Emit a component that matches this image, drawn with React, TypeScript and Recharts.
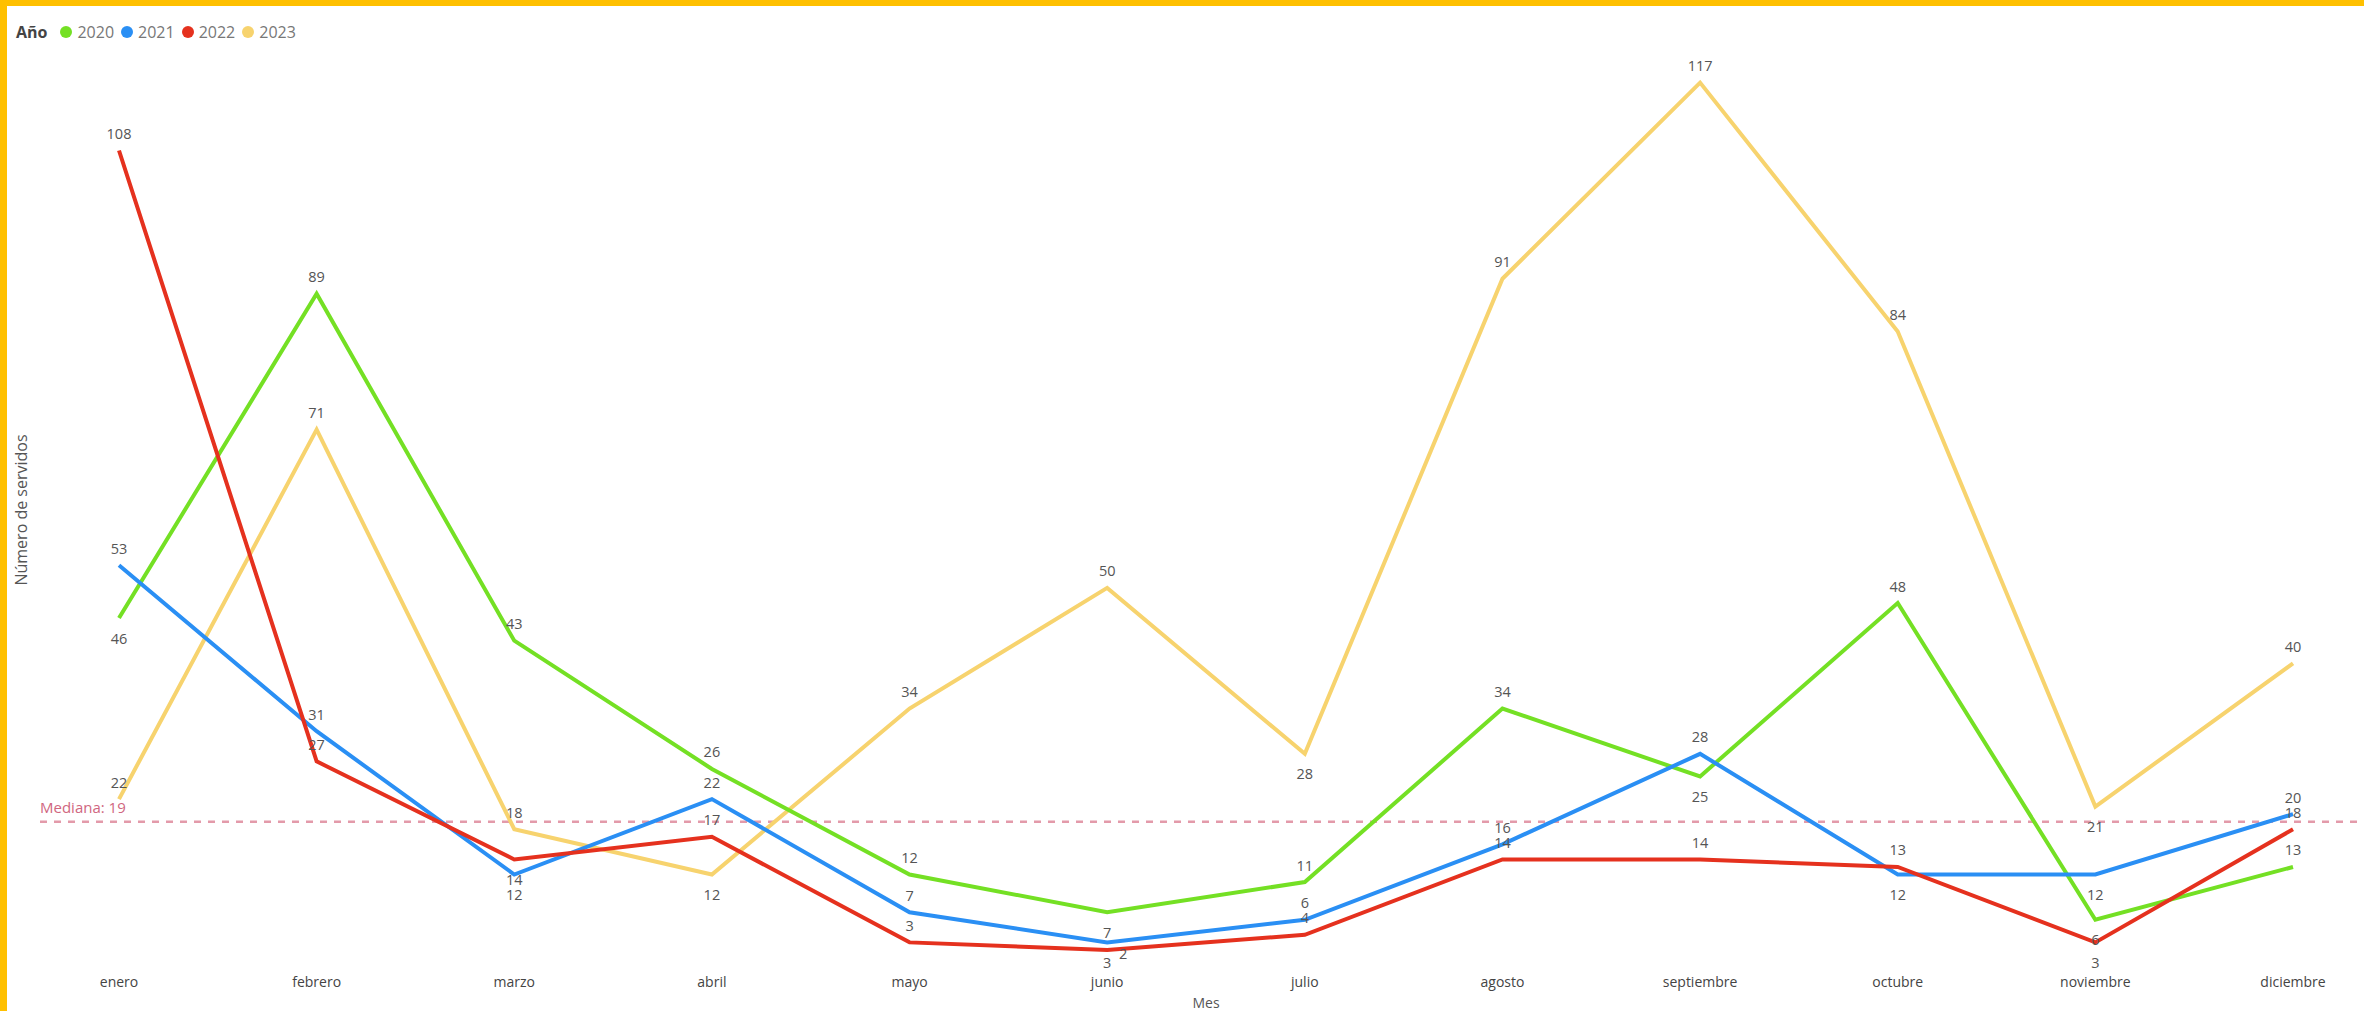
import React from "react";
import { LineChart, Line, XAxis, YAxis, LabelList, ReferenceLine } from "recharts";

const MONTHS = ["enero", "febrero", "marzo", "abril", "mayo", "junio", "julio", "agosto", "septiembre", "octubre", "noviembre", "diciembre"];
const Y2020 = [46, 89, 43, 26, 12, 7, 11, 34, 25, 48, 6, 13];
const Y2021 = [53, 31, 12, 22, 7, 3, 6, 16, 28, 12, 12, 20];
const Y2022 = [108, 27, 14, 17, 3, 2, 4, 14, 14, 13, 3, 18];
const Y2023 = [22, 71, 18, 12, 34, 50, 28, 91, 117, 84, 21, 40];
const MEDIAN = 19;
const YEARS = ["2020", "2021", "2022", "2023"];

const COLORS: Record<string, string> = {
  "2020": "#74E024",
  "2021": "#2A8FF4",
  "2022": "#E5311E",
  "2023": "#F7D36E",
};

// label placement (style config, not data)
const LABEL_BELOW: Record<string, number[]> = {
  "2020": [0, 5, 8, 10],
  "2021": [2, 5, 9, 10],
  "2022": [2, 10],
  "2023": [3, 6, 10],
};
const LABEL_RIGHT: Record<string, number[]> = { "2022": [5] };

const data = MONTHS.map((m, i) => ({
  month: m,
  "2020": Y2020[i],
  "2021": Y2021[i],
  "2022": Y2022[i],
  "2023": Y2023[i],
}));

const FONT = "'Segoe UI', 'Open Sans', sans-serif";

const makeLabel = (key: string) => (props: any) => {
  const { x, y, value, index } = props;
  const below = (LABEL_BELOW[key] || []).includes(index);
  const right = (LABEL_RIGHT[key] || []).includes(index);
  let tx = x;
  let ty = y - 17;
  if (below) ty = y + 20;
  if (right) {
    tx = x + 16;
    ty = y + 4;
  }
  return (
    <text x={tx} y={ty} textAnchor="middle" dominantBaseline="central" fontSize={14.5} fill="#555" fontFamily={FONT}>
      {value}
    </text>
  );
};

const MedianShape = (props: any) => {
  const y = props.y1 ?? props.y;
  return (
    <g>
      <line x1={40} x2={2364} y1={y} y2={y} stroke="#E39AAA" strokeWidth={2.5} strokeDasharray="7 7" />
      <text x={40} y={y - 15} fontSize={15} fill="#D06680" fontFamily={FONT} dominantBaseline="central">
        {`Mediana: ${MEDIAN}`}
      </text>
    </g>
  );
};

const order = ["2023", "2020", "2021", "2022"];

export default function App() {
  return (
    <div style={{ position: "absolute", left: 0, top: 0, width: 2364, height: 1011, background: "#fff", fontFamily: FONT, overflow: "hidden" }}>
      <div style={{ position: "absolute", left: 0, top: 0, width: 2364, height: 6, background: "#FFC000" }} />
      <div style={{ position: "absolute", left: 0, top: 0, width: 7, height: 1011, background: "#FFC000" }} />
      <div style={{ position: "absolute", left: 16, top: 20, display: "flex", alignItems: "center", fontSize: 16, lineHeight: "24px" }}>
        <span style={{ fontWeight: 700, color: "#444", marginRight: 13 }}>Año</span>
        {YEARS.map((yr) => (
          <span key={yr} style={{ display: "flex", alignItems: "center", marginRight: 7 }}>
            <span style={{ width: 12, height: 12, borderRadius: "50%", background: COLORS[yr], display: "inline-block", marginRight: 5 }} />
            <span style={{ color: "#777" }}>{yr}</span>
          </span>
        ))}
      </div>
      <div
        style={{
          position: "absolute",
          left: 21,
          top: 510,
          transform: "translate(-50%, -50%) rotate(-90deg)",
          fontSize: 16,
          color: "#555",
          whiteSpace: "nowrap",
        }}
      >
        Número de servidos
      </div>
      <div style={{ position: "absolute", left: 1206, top: 1002, transform: "translate(-50%, -50%)", fontSize: 14, color: "#555" }}>Mes</div>
      <div style={{ position: "absolute", left: 0, top: 0 }}>
        <LineChart width={2364} height={1011} data={data} margin={{ top: 60, right: 71, bottom: 16, left: 119 }}>
          <XAxis
            dataKey="month"
            axisLine={false}
            tickLine={false}
            interval={0}
            height={30}
            tickMargin={6}
            tick={{ fontSize: 14, fill: "#444", fontFamily: FONT }}
          />
          <YAxis hide domain={[0, 120]} />
          <ReferenceLine y={MEDIAN} ifOverflow="visible" shape={MedianShape} />
          {order.map((yr) => (
            <Line
              key={yr}
              type="linear"
              dataKey={yr}
              stroke={COLORS[yr]}
              strokeWidth={4}
              dot={false}
              activeDot={false}
              isAnimationActive={false}
            >
              <LabelList dataKey={yr} content={makeLabel(yr)} />
            </Line>
          ))}
        </LineChart>
      </div>
    </div>
  );
}
